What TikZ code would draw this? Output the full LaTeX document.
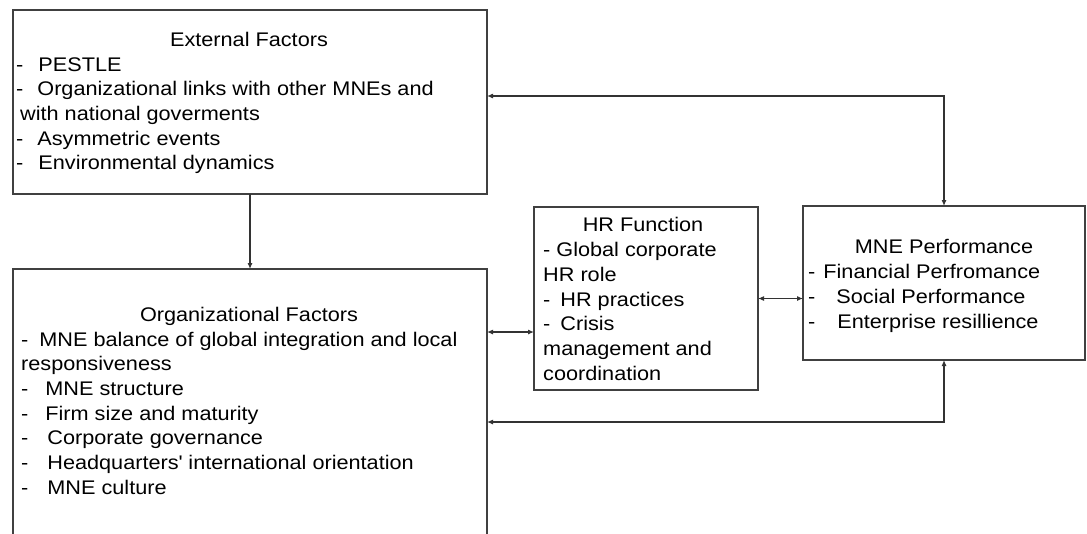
\documentclass[tikz,border=0pt]{standalone}
\usepackage{fontspec}
\setmainfont{Liberation Sans}[FakeStretch=1.1]
\usepackage{tikz}
\usetikzlibrary{positioning}
\usetikzlibrary{arrows.meta}

\tikzset{
    factorbox/.style={draw=black!75, line width=1.3pt, inner sep=0pt, outer sep=0pt},
    boxtitle/.style={anchor=base, inner sep=0pt, font=\fontsize{19.7}{24.7}\selectfont},
    boxlist/.style={anchor=north west, inner sep=0pt, align=left, font=\fontsize{19.7}{24.7}\selectfont},
    oneway/.style={draw=black!80, line width=1.1pt, -{Latex[length=6pt,width=5pt]}},
    twoway/.style={draw=black!80, line width=1.1pt, {Latex[length=6pt,width=5pt]}-{Latex[length=6pt,width=5pt]}}
}

\begin{document}
\begin{tikzpicture}[x=1pt, y=-1pt]

\useasboundingbox (0,0) rectangle (1087,533);

\node[factorbox, minimum width=474pt, minimum height=184pt] (ext) at (250,102) {};
\node[factorbox, minimum width=474pt, minimum height=291pt] (org) at (250,414.5) {};
\node[factorbox, minimum width=224pt, minimum height=183pt] (hr) at (646,298.5) {};
\node[factorbox, minimum width=282pt, minimum height=154pt] (mne) at (944,283) {};

\node[boxtitle] (exttitle) at (249,46.5) {External Factors};
\node[boxlist] (extlist) at (16,53.7) {\strut-\hspace{15pt}PESTLE\\
    -\hspace{14pt}Organizational links with other MNEs and\\
    \hspace{4pt}with national goverments\\
    -\hspace{14pt}Asymmetric events\\
    -\hspace{15pt}Environmental dynamics};

\node[boxtitle] (orgtitle) at (249,321.5) {Organizational Factors};
\node[boxlist] (orglist) at (21,328.7) {\strut-\hspace{11pt}MNE balance of global integration and local\\
    responsiveness\\
    -\hspace{17pt}MNE structure\\
    -\hspace{17pt}Firm size and maturity\\
    -\hspace{19pt}Corporate governance\\
    -\hspace{19pt}Headquarters\textquotesingle{} international orientation\\
    -\hspace{19pt}MNE culture};

\node[boxtitle] (hrtitle) at (643,231.5) {HR Function};
\node[boxlist] (hrlist) at (543,239.2) {\strut- Global corporate\\
    HR role\\
    -\hspace{10pt}HR practices\\
    -\hspace{10pt}Crisis\\
    management and\\
    coordination};

\node[boxtitle] (mnetitle) at (944,253.5) {MNE Performance};
\node[boxlist] (mnelist) at (808,261.2) {\strut-\hspace{8pt}Financial Perfromance\\
    -\hspace{21pt}Social Performance\\
    -\hspace{22pt}Enterprise resillience};

\coordinate (hrin) at ([yshift=-33.5pt]hr.west);
\coordinate (lowrow) at (600,422);

\draw[oneway] (ext.south) -- (org.north);
\draw[twoway] ([yshift=6pt]ext.east) -| (mne.north);
\draw[twoway] (org.east |- hrin) -- (hrin);
\draw[twoway] (hr.east) -- (mne.west |- hr.east);
\draw[twoway] (org.east |- lowrow) -| (mne.south);

\end{tikzpicture}
\end{document}
